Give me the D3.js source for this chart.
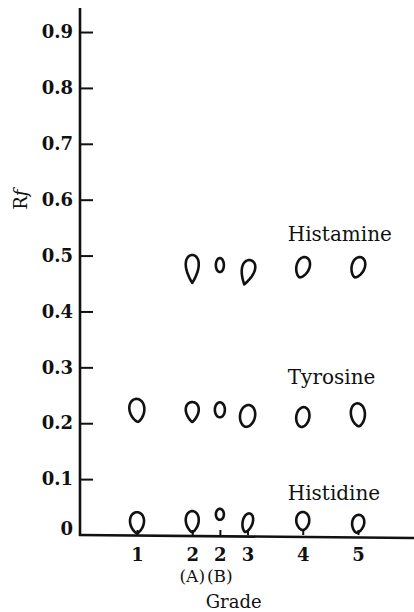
<!DOCTYPE html>
<html>
<head>
<meta charset="utf-8">
<script src="https://cdn.jsdelivr.net/npm/d3@7"></script>
<style>
  html, body { margin: 0; padding: 0; background: #fff; }
  svg { display: block; }
  text { font-family: "DejaVu Serif", "Liberation Serif", serif; fill: #111; }
</style>
</head>
<body>
<svg id="chart" width="414" height="612"></svg>
<script>
// ---- data ----
const grades = [1, 2, 2.5, 3, 4, 5];               // sample positions on the grade axis
const gradeLabels = ["1", "2", "2", "3", "4", "5"];
const gradeSubLabels = ["", "(A)", "(B)", "", "", ""];
const yTicks = [0, 0.1, 0.2, 0.3, 0.4, 0.5, 0.6, 0.7, 0.8, 0.9];
const yTickLabels = ["0", "0.1", "0.2", "0.3", "0.4", "0.5", "0.6", "0.7", "0.8", "0.9"];
const seriesNames = ["Histamine", "Tyrosine", "Histidine"];
const histamineRf = [null, 0.476, 0.483, 0.470, 0.479, 0.479];
const tyrosineRf  = [0.223, 0.220, 0.224, 0.213, 0.211, 0.215];
const histidineRf = [0.022, 0.024, 0.037, 0.022, 0.025, 0.020];
const seriesValues = [histamineRf, tyrosineRf, histidineRf];

// ---- styles (spot outlines: rx, ry in px, taper 0=oval..1=teardrop, rotation deg) ----
const spotStyle = [
  [null, {rx:6.5,ry:14,t:1,r:0}, {rx:4,ry:7,t:0,r:0}, {rx:6.5,ry:12.5,t:1,r:15}, {rx:6.5,ry:10.5,t:0.3,r:18}, {rx:6.5,ry:10.5,t:0.3,r:18}],
  [{rx:7.5,ry:11.5,t:0.4,r:-5}, {rx:6.5,ry:10,t:0.7,r:0}, {rx:5,ry:7.5,t:0,r:0}, {rx:7.5,ry:11,t:0.1,r:10}, {rx:6.5,ry:10,t:0.1,r:10}, {rx:7,ry:11.5,t:0.3,r:-5}],
  [{rx:7,ry:10.5,t:0.4,r:0}, {rx:6.5,ry:10.5,t:0.4,r:0}, {rx:4,ry:5.5,t:0,r:0}, {rx:5,ry:9.5,t:0.3,r:15}, {rx:6.5,ry:9,t:0.2,r:0}, {rx:6,ry:9,t:0.3,r:10}]
];
const labelDy = [-27, -29, -21];

const svg = d3.select("#chart");
const W = 414;

const x = d3.scaleLinear().domain([1, 5]).range([137, 358]);
const y = d3.scaleLinear().domain([0, 0.943]).range([535, 8]);
const x0 = 80;

// spot shape generator
function spotPath(s) {
  const n = 80, pts = [];
  let maxX = 0;
  for (let i = 0; i <= n; i++) {
    const t = (i / n) * 2 * Math.PI;            // t=0 at bottom
    const px = Math.sin(t) * Math.pow(Math.abs(Math.sin(t / 2)), s.t);
    const py = Math.cos(t);
    pts.push([px, py]);
    maxX = Math.max(maxX, Math.abs(px));
  }
  return d3.line().curve(d3.curveCardinalClosed)(
    pts.slice(0, n).map(p => [p[0] / maxX * s.rx, p[1] * s.ry])
  );
}

// axes
const yAxis = d3.axisLeft(y).tickValues(yTicks.slice(1)).tickSizeInner(-13).tickSizeOuter(0).tickPadding(7)
  .tickFormat((d) => yTickLabels[yTicks.indexOf(d)]);
const gy = svg.append("g").attr("transform", `translate(${x0},0)`).call(yAxis);
gy.select(".domain").remove();
gy.selectAll(".tick line").attr("stroke", "#111").attr("stroke-width", 2);
gy.selectAll(".tick text").attr("font-size", 18).attr("font-weight", "bold")
  .attr("font-family", "DejaVu Serif").attr("fill", "#111");
svg.append("text").attr("x", x0 - 7).attr("y", y(0)).attr("dy", "0.0em")
  .attr("text-anchor", "end").attr("font-size", 18).attr("font-weight", "bold").text(yTickLabels[0]);

const xAxis = d3.axisBottom(x).tickValues(grades).tickSizeInner(-5).tickSizeOuter(0).tickPadding(13)
  .tickFormat((d, i) => gradeLabels[i]);
const gx = svg.append("g").attr("transform", `translate(0,${y(0)})`).call(xAxis);
gx.select(".domain").remove();
gx.selectAll(".tick line").attr("stroke", "#111").attr("stroke-width", 2);
gx.selectAll(".tick text").attr("font-size", 18).attr("font-weight", "bold")
  .attr("font-family", "DejaVu Serif").attr("fill", "#111");

// sub labels (A)(B)
svg.append("g").selectAll("text").data(grades.filter((g, i) => gradeSubLabels[i]))
  .join("text")
  .attr("x", d => x(d)).attr("y", y(0) + 47)
  .attr("text-anchor", "middle").attr("font-size", 17)
  .text(d => gradeSubLabels[grades.indexOf(d)]);

// axis lines
svg.append("line").attr("x1", x0).attr("x2", x0).attr("y1", y(0.943)).attr("y2", y(0) + 1)
  .attr("stroke", "#111").attr("stroke-width", 2.6);
svg.append("line").attr("x1", x0 - 1).attr("x2", W).attr("y1", y(0)).attr("y2", y(0) + 3)
  .attr("stroke", "#111").attr("stroke-width", 2.6);

// axis titles
svg.append("text").attr("x", x(2.75)).attr("y", 608).attr("text-anchor", "middle")
  .attr("font-size", 18).text("Grade");
svg.append("text").attr("transform", `translate(27,${y(0.6)}) rotate(-90)`)
  .attr("text-anchor", "middle").attr("font-size", 18)
  .html('R<tspan font-style="italic">f</tspan>');

// spots
seriesValues.forEach((vals, si) => {
  const g = svg.append("g").attr("class", "series");
  g.selectAll("path").data(vals.map((v, i) => ({v, i})).filter(d => d.v != null))
    .join("path")
    .attr("d", d => spotPath(spotStyle[si][d.i]))
    .attr("transform", d => `translate(${x(grades[d.i])},${y(d.v)}) rotate(${spotStyle[si][d.i].r})`)
    .attr("fill", "none").attr("stroke", "#111").attr("stroke-width", 2.6);
  const mean = d3.mean(vals.filter(v => v != null));
  svg.append("text").attr("x", x(4) - 15).attr("y", y(mean) + labelDy[si])
    .attr("font-size", 20).text(seriesNames[si]);
});
</script>
</body>
</html>
